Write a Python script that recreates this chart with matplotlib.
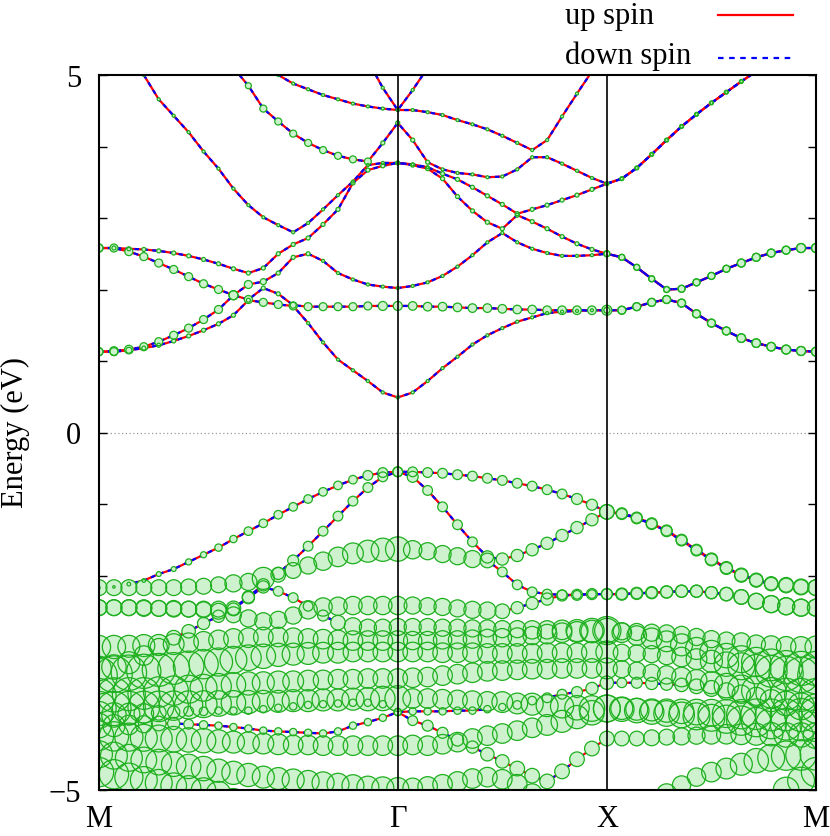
import numpy as np
import matplotlib
matplotlib.use("Agg")
import matplotlib.pyplot as plt
from matplotlib.lines import Line2D

plt.rcParams['font.family'] = ['Liberation Serif', 'DejaVu Serif']

# ---------------- k-path ----------------
K_LABELS = ["M", "Γ", "X", "M"]
K_INDEX = [0, 20, 34, 48]          # k-point index of each high-symmetry point
Y_LABELS = {-5: "\u22125", 0: "0", 5: "5"}
LEGEND = ["up spin", "down spin"]

# ---------------- conduction bands (eV), segments M-Γ (21) | Γ-X (14) | X-M (14) ----------------
C1 = ([1.13,1.13,1.15,1.18,1.22,1.28,1.35,1.43,1.52,1.64,1.85,2.02,1.94,1.78,1.53,1.26,1.02,0.87,0.72,0.56,0.49]
      + [0.56,0.72,0.90,1.06,1.23,1.36,1.46,1.55,1.61,1.67,1.69,1.70,1.71,1.71]
      + [1.71,1.76,1.82,1.86,1.81,1.66,1.53,1.42,1.32,1.25,1.20,1.16,1.14,1.13])
C2 = ([1.13,1.14,1.16,1.20,1.27,1.36,1.46,1.58,1.72,1.92,2.07,2.11,2.23,2.45,2.50,2.40,2.23,2.14,2.07,2.04,2.02]
      + [2.05,2.10,2.19,2.32,2.48,2.66,2.79,2.66,2.57,2.51,2.47,2.47,2.48,2.50]
      + [2.45,2.31,2.15,2.00,2.01,2.10,2.19,2.29,2.37,2.45,2.51,2.55,2.58,2.58])
C3 = ([2.58,2.58,2.53,2.46,2.37,2.28,2.18,2.08,2.00,1.92,1.86,1.82,1.79,1.77,1.76,1.76,1.76,1.76,1.77,1.77,1.77]
      + [1.77,1.76,1.76,1.75,1.74,1.74,1.73,1.72,1.72,1.71,1.71,1.71,1.71,1.71]
      + [1.71,1.76,1.82,1.86,1.81,1.66,1.53,1.42,1.32,1.25,1.20,1.16,1.14,1.13])
C4 = ([2.58,2.58,2.57,2.56,2.54,2.51,2.47,2.42,2.36,2.29,2.23,2.30,2.50,2.63,2.72,2.91,3.12,3.49,3.67,3.73,3.77]
      + [3.74,3.69,3.62,3.54,3.43,3.31,3.19,3.06,2.95,2.85,2.74,2.64,2.56,2.50]
      + [2.45,2.31,2.15,2.00,2.01,2.10,2.19,2.29,2.37,2.45,2.51,2.55,2.58,2.58])
C5 = ([5.60,5.45,5.25,5.00,4.66,4.43,4.20,3.93,3.69,3.41,3.18,3.01,2.90,2.80,2.93,3.12,3.32,3.51,3.74,3.77,3.77]
      + [3.75,3.71,3.68,3.63,3.61,3.57,3.58,3.68,3.85,4.09,4.42,4.74,5.05,5.40]
      + [5.55,5.70,5.80,5.90,6.00,6.00,6.00,6.00,6.00,6.00,5.90,5.80,5.70,5.60])
C6 = ([6.00,6.00,6.00,6.00,6.00,6.00,6.00,5.60,5.35,5.10,4.85,4.53,4.35,4.18,4.05,3.95,3.87,3.82,3.79,4.05,4.33]
      + [4.09,3.78,3.55,3.30,3.10,2.94,2.85,3.04,3.12,3.18,3.25,3.32,3.40,3.48]
      + [3.55,3.70,3.89,4.09,4.28,4.45,4.61,4.76,4.91,5.05,5.20,5.35,5.50,6.00])
C7 = ([6.00,6.00,6.00,6.00,6.00,6.00,6.00,6.00,6.00,6.00,5.30,5.15,5.00,4.88,4.80,4.72,4.66,4.60,4.56,4.53,4.51]
      + [4.51,4.48,4.44,4.37,4.31,4.24,4.15,4.05,3.95,3.85,3.76,3.66,3.56,3.48]
      + [3.55,3.70,3.89,4.09,4.28,4.45,4.61,4.76,4.91,5.05,5.20,5.35,5.60,6.00])
C8 = ([6.00,6.00,6.00,6.00,6.00,6.00,6.00,6.00,6.00,6.00,6.00,6.00,6.00,6.00,6.00,6.00,6.00,6.00,5.20,4.82,4.51]
      + [4.79,5.10,5.40,5.70,6.00,6.00,6.00,6.00,6.00,6.00,6.00,6.00,6.00,6.00]
      + [6.00,6.00,6.00,6.00,6.00,6.00,6.00,6.00,6.00,6.00,6.00,6.00,6.00,6.00])

# projected weights (circle radius, px) for conduction bands
WC1 = ([4,4,3,2,2,2,2,2,2,2,2,2,2,3,1.5,1.5,1.5,1.5,1.5,1.5,1.5]
       + [1.5,1.5,1.5,1.5,1.5,1.5,1.5,1.5,1.5,1.5,1.5,1.5,1.5,3]
       + [4,4,4,4,4,4,4,4,4.3,4.3,4.3,4.5,4.5,4.5])
WC2 = ([4,4.3,4.3,4,4,4,4,4,4,4.5,4,3,2,2,2,1.5,1.5,1.5,1.5,1.5,1.5]
       + [1.5,1.5,1.5,1.5,1.5,1.5,1.5,1.5,1.5,1.5,1.5,1.5,1.5,3]
       + [3,3,3,3,3.5,3.5,3.5,3.5,4,4,4,4,4.5,4.5])
WC3 = ([4,4,4,4,4,4,4,4,4,4.5,4,4,4,4,4,4,4,4,4,4.5,4.5]
       + [4.3,4.3,4.3,4.3,4.3,4.3,4.3,4.3,4.3,4.3,4.3,4.3,4.3,5]
       + [4,4,4,4,4,4,4,4,4.3,4.3,4.3,4.5,4.5,4.5])
WC4 = ([4,2,2,2,2,2,2,2,2,2,2,2,2,2,2,2,2,2,2,2,2]
       + [2,2,2,2,2,2,2,2,2,2,2,2,2,3]
       + [3,3,3,3,3.5,3.5,3.5,3.5,4,4,4,4,4.5,4.5])
WC5 = ([1.5,1.5,1.5,1.5,1.5,1.5,1.5,1.5,1.5,1.5,1.5,1.5,1.5,1.5,1.5,1.5,1.5,1.5,1.5,1.5,1.5]
       + [1.5,1.5,1.5,1.5,1.5,1.5,1.5,1.5,1.5,1.5,1.5,1.5,1.5,1.5]
       + [1.5,1.5,1.5,1.5,1.5,1.5,1.5,1.5,1.5,1.5,1.5,1.5,1.5,1.5])
WC6 = ([1.5,1.5,1.5,1.5,1.5,1.5,1.5,1.5,1.5,2,3,3.5,3.5,3.5,3.5,3.5,3.5,3.5,3.5,2,2]
       + [2,2,2,2,2,2,2,2,2,2,2,2,2,2]
       + [2,2,2,2,2,2,2,2,2,2,2,2,2,2])
WC7 = list(WC5)
WC8 = list(WC5)

# ---------------- valence bands (eV) ----------------
V1 = ([-2.17,-2.16,-2.12,-2.07,-1.98,-1.91,-1.81,-1.71,-1.61,-1.49,-1.38,-1.27,-1.15,-1.04,-0.93,-0.83,-0.74,-0.66,-0.60,-0.56,-0.55]
      + [-0.55,-0.56,-0.57,-0.59,-0.61,-0.64,-0.67,-0.71,-0.75,-0.80,-0.86,-0.93,-1.01,-1.11]
      + [-1.13,-1.19,-1.27,-1.37,-1.50,-1.64,-1.77,-1.89,-1.99,-2.06,-2.11,-2.13,-2.16,-2.17])
R1 = ([-2.17,-2.17,-2.17,-2.17,-2.17,-2.17,-2.16,-2.15,-2.13,-2.11,-2.09,-2.04,-1.99,-1.93,-1.86,-1.80,-1.74,-1.69,-1.66,-1.64,-1.63]
      + [-1.64,-1.66,-1.70,-1.73,-1.77,-1.79,-1.77,-1.72,-1.64,-1.55,-1.44,-1.33,-1.22,-1.11]
      + [-1.14,-1.20,-1.28,-1.38,-1.51,-1.65,-1.78,-1.90,-2.00,-2.07,-2.12,-2.14,-2.16,-2.17])
V2 = ([-3.30,-3.28,-3.22,-3.12,-3.00,-2.87,-2.78,-2.67,-2.57,-2.47,-2.30,-2.13,-1.97,-1.79,-1.59,-1.38,-1.17,-0.96,-0.77,-0.62,-0.55]
      + [-0.62,-0.81,-1.04,-1.29,-1.53,-1.74,-1.95,-2.13,-2.23,-2.26,-2.27,-2.27,-2.26,-2.26]
      + [-2.26,-2.25,-2.24,-2.23,-2.22,-2.22,-2.24,-2.26,-2.30,-2.36,-2.40,-2.43,-2.45,-2.45])
R2A = ([-2.45,-2.45,-2.45,-2.45,-2.46,-2.46,-2.47,-2.47,-2.47,-2.46,-2.31,-2.16,-2.22,-2.31,-2.43,-2.56,-2.66,-2.71,-2.73,-2.73,-2.72]
       + [-2.72,-2.72,-2.73,-2.73,-2.74,-2.74,-2.75,-2.75,-2.76,-2.76,-2.76,-2.77,-2.77,-2.77]
       + [-2.78,-2.79,-2.80,-2.81,-2.83,-2.86,-2.89,-2.91,-2.93,-2.96,-2.98,-2.99,-3.00,-3.00])
R2B = ([-2.45,-2.45,-2.45,-2.46,-2.46,-2.47,-2.47,-2.48,-2.50,-2.55,-2.60,-2.64,-2.62,-2.56,-2.48,-2.44,-2.43,-2.42,-2.42,-2.42,-2.42]
       + [-2.42,-2.43,-2.44,-2.46,-2.48,-2.49,-2.50,-2.45,-2.39,-2.33,-2.28,-2.27,-2.26,-2.26]
       + [-2.26,-2.25,-2.24,-2.23,-2.22,-2.22,-2.24,-2.26,-2.30,-2.36,-2.40,-2.43,-2.45,-2.45])
R3 = ([-3.00,-3.00,-2.99,-2.98,-2.97,-2.96,-2.94,-2.92,-2.90,-2.88,-2.87,-2.86,-2.86,-2.87,-2.88,-2.89,-2.90,-2.91,-2.91,-2.91,-2.91]
      + [-2.91,-2.91,-2.90,-2.90,-2.89,-2.88,-2.87,-2.86,-2.84,-2.82,-2.80,-2.79,-2.78,-2.77]
      + [-2.80,-2.84,-2.88,-2.92,-2.97,-3.02,-3.07,-3.12,-3.17,-3.21,-3.25,-3.28,-3.30,-3.30])
MB = ([-3.40,-3.38,-3.36,-3.34,-3.32,-3.30,-3.27,-3.24,-3.21,-3.18,-3.15,-3.13,-3.11,-3.10,-3.09,-3.08,-3.08,-3.07,-3.07,-3.07,-3.07]
      + [-3.07,-3.07,-3.08,-3.08,-3.08,-3.09,-3.09,-3.09,-3.09,-3.08,-3.08,-3.08,-3.07,-3.07]
      + [-3.08,-3.09,-3.10,-3.12,-3.14,-3.17,-3.20,-3.24,-3.27,-3.31,-3.34,-3.37,-3.39,-3.40])
MC = ([-3.68,-3.67,-3.66,-3.65,-3.63,-3.61,-3.59,-3.57,-3.55,-3.53,-3.51,-3.50,-3.49,-3.48,-3.47,-3.46,-3.45,-3.45,-3.44,-3.44,-3.44]
      + [-3.43,-3.42,-3.40,-3.38,-3.36,-3.34,-3.33,-3.32,-3.31,-3.31,-3.30,-3.30,-3.30,-3.30]
      + [-3.31,-3.33,-3.36,-3.39,-3.42,-3.46,-3.50,-3.54,-3.58,-3.61,-3.64,-3.66,-3.67,-3.68])
MD = ([-3.86,-3.86,-3.85,-3.84,-3.83,-3.82,-3.81,-3.80,-3.79,-3.78,-3.77,-3.76,-3.76,-3.75,-3.75,-3.74,-3.74,-3.73,-3.73,-3.72,-3.72]
      + [-3.72,-3.72,-3.73,-3.74,-3.75,-3.76,-3.77,-3.79,-3.80,-3.82,-3.83,-3.85,-3.86,-3.86]
      + [-3.86,-3.87,-3.88,-3.89,-3.90,-3.91,-3.92,-3.93,-3.94,-3.94,-3.95,-3.95,-3.95,-3.95])
ME = ([-3.95,-3.95,-3.94,-3.93,-3.92,-3.91,-3.90,-3.90,-3.89,-3.89,-3.89,-3.87,-3.85,-3.83,-3.81,-3.80,-3.79,-3.78,-3.78,-3.80,-3.91]
      + [-3.90,-3.90,-3.90,-3.89,-3.89,-3.87,-3.84,-3.81,-3.75,-3.71,-3.66,-3.63,-3.58,-3.50]
      + [-3.50,-3.50,-3.51,-3.52,-3.53,-3.55,-3.58,-3.62,-3.66,-3.70,-3.75,-3.79,-3.83,-3.86])
MF = ([-4.10,-4.10,-4.09,-4.08,-4.07,-4.07,-4.08,-4.09,-4.10,-4.12,-4.14,-4.17,-4.18,-4.19,-4.20,-4.21,-4.18,-4.10,-4.05,-3.99,-3.91]
      + [-4.03,-4.10,-4.20,-4.30,-4.40,-4.50,-4.60,-4.70,-4.80,-4.88,-4.74,-4.57,-4.42,-4.28]
      + [-4.28,-4.28,-4.27,-4.26,-4.25,-4.24,-4.23,-4.22,-4.22,-4.22,-4.22,-4.23,-4.23,-4.24])
MG = ([-4.24,-4.25,-4.26,-4.27,-4.28,-4.29,-4.30,-4.31,-4.32,-4.33,-4.34,-4.35,-4.36,-4.37,-4.37,-4.38,-4.38,-4.38,-4.38,-4.38,-4.38]
      + [-4.37,-4.38,-4.36,-4.33,-4.28,-4.24,-4.21,-4.17,-4.13,-4.09,-4.04,-3.98,-3.92,-3.86]
      + [-3.87,-3.89,-3.91,-3.93,-3.95,-3.97,-3.99,-4.01,-4.03,-4.05,-4.07,-4.08,-4.09,-4.10])
MH = ([-4.50,-4.52,-4.55,-4.58,-4.61,-4.64,-4.67,-4.70,-4.73,-4.76,-4.79,-4.82,-4.84,-4.86,-4.88,-4.90,-4.92,-4.94,-4.96,-4.97,-4.98]
      + [-4.97,-4.95,-4.92,-4.88,-4.84,-4.82,-4.85,-4.92,-5.05,-5.20,-5.35,-5.50,-5.60,-5.70]
      + [-5.60,-5.40,-5.20,-5.05,-4.93,-4.82,-4.75,-4.70,-4.64,-4.59,-4.55,-4.52,-4.51,-4.50])
MI = ([-4.75,-4.78,-4.82,-4.86,-4.90,-4.94,-4.97,-5.00,-5.05,-5.15,-5.25,-5.35,-5.45,-5.50,-5.55,-5.60,-5.60,-5.60,-5.60,-5.60,-5.60]
      + [-5.60,-5.65,-5.70,-5.75,-5.80,-5.80,-5.80,-5.80,-5.80,-5.80,-5.80,-5.85,-5.90,-5.90]
      + [-5.90,-5.90,-5.90,-5.90,-5.85,-5.80,-5.70,-5.60,-5.50,-5.35,-5.20,-5.00,-4.87,-4.75])

# projected weights (circle radius, px) for valence bands
WV1 = ([1,1,1.5,1.5,2,2,2.5,2.5,3,3,3.5,3.5,3.5,3.5,3.5,3.5,3.5,3.5,4,4,4]
       + [4,4,4,4,4,4,4,4,4,4,4,4.5,4.5,6]
       + [4.5,4.5,4.5,4.5,4.5,4.5,5,5,5.5,5.5,5.5,6,6,6.5])
WR1 = ([6.5,6.5,6.5,6.5,6.5,6.5,6.5,6.5,6.5,7,7,9,6,6.5,7,7.5,8,8.5,9,9.5,10]
       + [7.5,7,7,7,7,6,5,5,5,5,5,5,5,6]
       + [4.5,4.5,4.5,4.5,4.5,4.5,5,5,5.5,5.5,5.5,6,6.5,6.5])
WV2 = ([10,10,9,8,7,6,5.5,5,5,5,5,5,5,4.5,4,4,4,4,4,4,4]
       + [4.5,4,4,4,4,5,4,4,4,4,4,3.5,3.5,4.5]
       + [5,5,5,5,5,5,5,5.5,6,6.5,7,7,7,7])
WR2A = ([6.5,6.5,6.5,6.5,6.5,6.5,6.5,6.5,6.5,6,5,5,4,4,4,4.5,6,7,7,7,7]
        + [7,7,7,7,7,7,7,7,7.5,7.5,8,9,10,11.5]
        + [7,7,7,7,7,7,7,7,7.5,7.5,8,8,8.5,9])
WR2B = ([6.5,6.5,6.5,6.5,6.5,6.5,6.5,6.5,6.5,6.5,7,7,7,7,7.5,7.5,7.5,7.5,7.5,7.5,7.5]
        + [7,7,7,7,7,7,6,5,5,5,4.5,4.5,4.5,4.5]
        + [4.5,4.5,4.5,5,5,5,5,5.5,6,6.5,7,7,7,7])
WR3 = ([9.5,9.5,9,9,8.5,8.5,8,8,8,8,8,8,8,8,8,8,8,8,8,8,8]
       + [7.5,7.5,7.5,7.5,7.5,7.5,7.5,7.5,7.5,8,8,8.5,9,10]
       + [8,8,8.5,8.5,9,9,9.5,10,11,12,13,13.5,14,14])
WMB = ([15,15,14.5,14,13.5,13,12.5,12,11.5,11,10.5,10,9.5,9,9,8.5,8.5,8,8,8,8]
       + [8,8,8,8,8,8,8,8,8,8,8,8,8.5,9]
       + [7,7,7,7.5,8,8.5,9,10,11,12,13,14,14.5,15])
WMC = ([14,14,13.5,13,12.5,12,11.5,11,10.5,10,9.5,9,9,8.5,8.5,8,8,8,8,8,8]
       + [8,8,8,8,8,8,8,8,8,8,8,8,8,8.5]
       + [7,7,7,7.5,8,8.5,9,10,11,12,12.5,13,13.5,14])
WMD = ([14,14,13.5,13,12.5,12,11.5,11,10.5,10,9.5,9,9,9,9,9,9,9,9.5,10,10.5]
       + [8,8,8,8,8,8,8.5,8.5,9,9,9.5,10,10.5,11]
       + [9,9,9,9.5,10,10.5,11,11.5,12,12.5,13,13,13.5,14])
WME = ([11,10,9,8,6,5,4,3.5,3,3,3,3,3,3,3,3,3,3,3,3,3]
       + [3,3,3,3,3,3,3,3.5,3.5,4,4,4.5,5,5.5]
       + [4,4.5,5,5,5.5,6,6.5,7,7.5,8,9,10,11,12])
WMF = ([10,9,8,7,6,5,4,3.5,3,3,3,3,3,3,3,3,3,3,3,3,3]
       + [4,4.5,4.5,5,5,5.5,5.5,6,6,6,6,6,6,6]
       + [6,6,6.5,6.5,7,7,7.5,8,8.5,9,9.5,10,10,10.5])
WMG = ([12,12,11.5,11,11,10.5,10,10,9.5,9,9,8.5,8.5,8,8,8,8,8,8,8,8]
       + [8,8,8,8,8,8,8,8,8,8.5,9,9.5,10,11]
       + [10,10,10,10.5,10.5,11,11,11.5,12,12,12.5,13,13,13])
WMH = ([11,11,11,10.5,10.5,10,10,10,9.5,9.5,9.5,9,9,9,9,9,9,9,9,9,9]
       + [8,8,8,8,8,8,8,8,8,8,8,8,8,8]
       + [8,8,8,8,7.5,7.5,8,8.5,9,10,11,12,12.5,13])
WMI = ([12,12,11.5,11,11,10.5,10,10,10,10,10,10,10,10,10,10,10,10,10,10,10]
       + [10,10,10,10,10,10,10,10,10,10,10,10,10,10]
       + [10,10,10,10,10,10,10,10,10,10,10,10.5,11,12])

COND = [(C1, WC1), (C2, WC2), (C3, WC3), (C4, WC4), (C5, WC5), (C6, WC6), (C7, WC7), (C8, WC8)]
VAL = [(V1, WV1), (R1, WR1), (V2, WV2), (R2A, WR2A), (R2B, WR2B), (R3, WR3), (MB, WMB),
       (MC, WMC), (MD, WMD), (ME, WME), (MF, WMF), (MG, WMG), (MH, WMH), (MI, WMI)]

for grp in (COND, VAL):
    for e, w in grp:
        if len(e) != 49 or len(w) != 49:
            raise ValueError(f"bad length {len(e)} {len(w)} {e[:3]}")


def sorted_group(group):
    E = np.array([g[0] for g in group], dtype=float)
    W = np.array([g[1] for g in group], dtype=float)
    order = np.argsort(E, axis=0)
    return np.take_along_axis(E, order, 0), np.take_along_axis(W, order, 0)


DPI = 100
fig = plt.figure(figsize=(8.3, 8.37), dpi=DPI)
ax = fig.add_axes([99 / 830, 46 / 837, 717 / 830, 715 / 837])
k = np.arange(49)

FILL = '#cdf2cd'
EDGE = '#1fb01f'
for grp, rscale in ((VAL, 1.22), (COND, 1.0)):
    E, W = sorted_group(grp)
    for e in E:
        ax.plot(k, e, color='red', lw=1.6, zorder=2, solid_capstyle='butt')
        ax.plot(k, e, color='blue', lw=1.6, ls=(0, (2, 2)), zorder=2.1, dash_capstyle='butt')
    kk = np.tile(k, E.shape[0])
    s = (2 * rscale * W.ravel() * 72 / DPI) ** 2
    ax.scatter(kk, E.ravel(), s=s, facecolors=FILL, edgecolors='none', zorder=3)
    ax.scatter(kk, E.ravel(), s=s, facecolors='none', edgecolors=EDGE, linewidths=0.9, zorder=4)

ax.axhline(0, color='#9a9a9a', lw=0.9, ls=(0, (1, 2)), zorder=1)
for xi in K_INDEX[1:-1]:
    ax.axvline(xi, color='black', lw=1.2, zorder=5)

ax.set_xlim(K_INDEX[0], K_INDEX[-1])
ax.set_ylim(-5, 5)
ax.set_xticks(K_INDEX)
ax.set_xticklabels(K_LABELS, fontsize=22)
ax.tick_params(axis='x', length=0, pad=10)
yt = list(range(-5, 6))
ax.set_yticks(yt)
ax.set_yticklabels([Y_LABELS.get(v, "") for v in yt], fontsize=22)
ax.tick_params(axis='y', direction='in', left=True, right=True, length=6, width=1.0, pad=13)
for sp in ax.spines.values():
    sp.set_linewidth(1.5)
    sp.set_zorder(6)

fig.text(15 / 830, 1 - 433 / 837, "Energy (eV)", rotation=90, ha='center', va='center', fontsize=22)

fig.text(565 / 830, 1 - 24 / 837, LEGEND[0], ha='left', va='baseline', fontsize=22)
fig.text(565 / 830, 1 - 64 / 837, LEGEND[1], ha='left', va='baseline', fontsize=22)
fig.add_artist(Line2D([718 / 830, 793 / 830], [1 - 16 / 837] * 2, transform=fig.transFigure,
                      color='red', lw=1.6))
fig.add_artist(Line2D([718 / 830, 793 / 830], [1 - 58.5 / 837] * 2, transform=fig.transFigure,
                      color='blue', lw=1.6, ls=(0, (2.5, 2.5))))

fig.savefig("out.png", dpi=DPI)
